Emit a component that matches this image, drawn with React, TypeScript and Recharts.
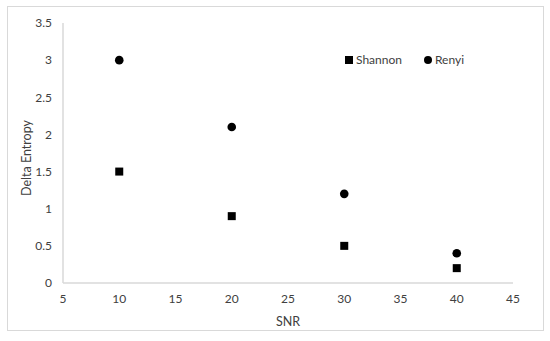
import React from 'react';
import { ScatterChart, Scatter, XAxis, YAxis } from 'recharts';

const snr = [10, 20, 30, 40];
const shannon = [1.5, 0.9, 0.5, 0.2];
const renyi = [3, 2.1, 1.2, 0.4];
const xTicks = [5, 10, 15, 20, 25, 30, 35, 40, 45];
const yTicks = [0, 0.5, 1, 1.5, 2, 2.5, 3, 3.5];
const seriesNames = ['Shannon', 'Renyi'];

const shannonData = snr.map((x, i) => ({ x, y: shannon[i] }));
const renyiData = snr.map((x, i) => ({ x, y: renyi[i] }));

const FONT = 'Lato, "Open Sans", sans-serif';
const AXIS = '#d9d9d9';
const TEXT = '#404040';

const Square = (props: any) => {
  const { cx, cy } = props;
  if (cx == null || cy == null) return null;
  return <rect x={cx - 4} y={cy - 4} width={8} height={8} fill="#000" />;
};
const Dot = (props: any) => {
  const { cx, cy } = props;
  if (cx == null || cy == null) return null;
  return <circle cx={cx} cy={cy} r={4.3} fill="#000" />;
};

const YLabel = (props: any) => {
  const vb = props.viewBox || {};
  const cy = vb.y + vb.height / 2 + 5;
  return (
    <text x={26} y={cy} transform={`rotate(-90, 26, ${cy})`} textAnchor="middle" dominantBaseline="central"
      fill={TEXT} fontFamily={FONT} fontSize={12.5}>Delta Entropy</text>
  );
};

export default function App() {
  return (
    <div style={{ position: 'absolute', left: 0, top: 0, width: 550, height: 341, background: '#fff' }}>
      <div style={{ position: 'absolute', left: 7, top: 6, width: 537, height: 325, border: `1px solid ${AXIS}`, boxSizing: 'border-box' }} />
      <div style={{ position: 'absolute', left: 0, top: 0 }}>
        <ScatterChart width={550} height={341} margin={{ top: 23, right: 37, bottom: 11, left: 8 }}>
          <XAxis type="number" dataKey="x" domain={[5, 45]} ticks={xTicks} interval={0}
            tickLine={false} axisLine={{ stroke: AXIS, strokeWidth: 1.5 }} tickMargin={5} height={47}
            tick={{ fill: TEXT, fontFamily: FONT, fontSize: 12 }}
            label={{ value: 'SNR', position: 'insideBottom', offset: 4, fill: TEXT, fontFamily: FONT, fontSize: 12.5 }} />
          <YAxis type="number" dataKey="y" domain={[0, 3.5]} ticks={yTicks} interval={0}
            tickLine={false} axisLine={{ stroke: AXIS, strokeWidth: 1.5 }} tickMargin={5} width={55}
            tick={{ fill: TEXT, fontFamily: FONT, fontSize: 12 }}
            label={<YLabel />} />
          <Scatter name={seriesNames[0]} data={shannonData} fill="#000" shape={<Square />} isAnimationActive={false} />
          <Scatter name={seriesNames[1]} data={renyiData} fill="#000" shape={<Dot />} isAnimationActive={false} />
        </ScatterChart>
      </div>
      <div style={{ position: 'absolute', left: 345, top: 52, display: 'flex', alignItems: 'center', fontFamily: FONT, fontSize: 12, color: TEXT, lineHeight: '16px' }}>
        <span style={{ display: 'inline-block', width: 8, height: 8, background: '#000', marginRight: 3 }} />
        <span style={{ marginRight: 22 }}>{seriesNames[0]}</span>
        <span style={{ display: 'inline-block', width: 8, height: 8, borderRadius: 4, background: '#000', marginRight: 3 }} />
        <span>{seriesNames[1]}</span>
      </div>
    </div>
  );
}
